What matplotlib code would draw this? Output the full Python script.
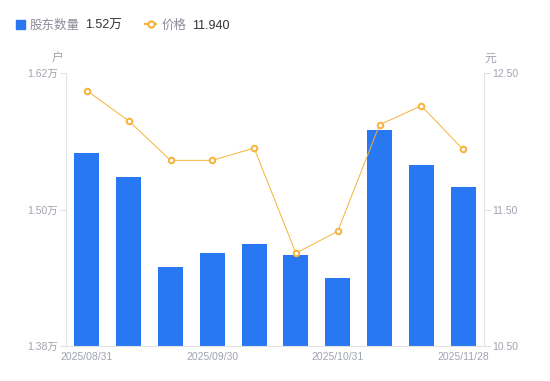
import matplotlib.pyplot as plt
import numpy as np

plt.rcParams['font.family'] = ['Liberation Sans', 'Noto Sans CJK SC', 'DejaVu Sans']

# 数据
dates = ["2025/08/31", "2025/09/10", "2025/09/19", "2025/09/30", "2025/10/10",
         "2025/10/20", "2025/10/31", "2025/11/10", "2025/11/20", "2025/11/28"]
holders = [1.550, 1.529, 1.4495, 1.462, 1.470, 1.460, 1.440, 1.570, 1.539, 1.520]  # 万户
price = [12.37, 12.15, 11.86, 11.86, 11.95, 11.18, 11.34, 12.12, 12.26, 11.94]
left_ticks = [1.38, 1.50, 1.62]
right_ticks = [10.50, 11.50, 12.50]

blue = "#2878F4"
orange = "#F7B23B"
grey = "#A0A3B1"
axis_c = "#E3E3E3"

fig = plt.figure(figsize=(5.5, 3.81), dpi=100)
ax = fig.add_axes([66 / 550, 35 / 381, 418 / 550, 273 / 381])
ax2 = ax.twinx()

x = np.arange(len(dates))
ax.bar(x, holders, width=0.6, color=blue, zorder=2)
ax.set_ylim(1.38, 1.62)
ax.set_xlim(-0.5, len(dates) - 0.5)
ax.set_yticks(left_ticks)
ax.set_yticklabels([f"{v:.2f}万" for v in left_ticks])
ax.set_xticks(x[::3])
ax.set_xticklabels(dates[::3])

ax2.plot(x, price, color=orange, lw=0.7, marker="o", ms=4, mfc="white",
         mec=orange, mew=1.4, zorder=3)
ax2.set_ylim(10.5, 12.5)
ax2.set_yticks(right_ticks)
ax2.set_yticklabels([f"{v:.2f}" for v in right_ticks])

for a in (ax, ax2):
    for s in a.spines.values():
        s.set_visible(False)
    a.tick_params(colors=grey, labelsize=7.5, length=4, width=0.8)
    a.tick_params(axis="y", color=axis_c)
ax.spines["left"].set_visible(True)
ax.spines["left"].set_color(axis_c)
ax.spines["bottom"].set_visible(True)
ax.spines["bottom"].set_color(axis_c)
ax2.spines["right"].set_visible(True)
ax2.spines["right"].set_color(axis_c)
ax.tick_params(axis="x", length=0, pad=4)
ax.tick_params(axis="y", pad=2)
ax2.tick_params(axis="y", pad=2)

# 单位
fig.text(58 / 550, 1 - 59 / 381, "户", color=grey, fontsize=8.5, ha="center", va="center")
fig.text(490 / 550, 1 - 59 / 381, "元", color=grey, fontsize=8.5, ha="center", va="center")

# 图例
ly = 1 - 24 / 381
ty = 1 - 26 / 381
fig.patches.append(plt.Rectangle((16 / 550, ly - 4.5 / 381), 9 / 550, 9 / 381,
                                 transform=fig.transFigure, color=blue))
fig.text(30 / 550, ty, "股东数量", color="#8A8D99", fontsize=9, va="center")
fig.text(85 / 550, ty, f"{holders[-1]:.2f}万", color="#333333", fontsize=9, va="center")
fig.lines.append(plt.Line2D([145 / 550, 150.5 / 550, 156 / 550], [ly, ly, ly],
                            transform=fig.transFigure, color=orange, lw=1.5,
                            marker="o", ms=4.5, mfc="white", mec=orange, mew=1.5,
                            markevery=[1]))
fig.text(162 / 550, ty, "价格", color="#8A8D99", fontsize=9, va="center")
fig.text(192 / 550, ty, f"{price[-1]:.3f}", color="#333333", fontsize=9, va="center")

fig.savefig("out.png", dpi=100)
